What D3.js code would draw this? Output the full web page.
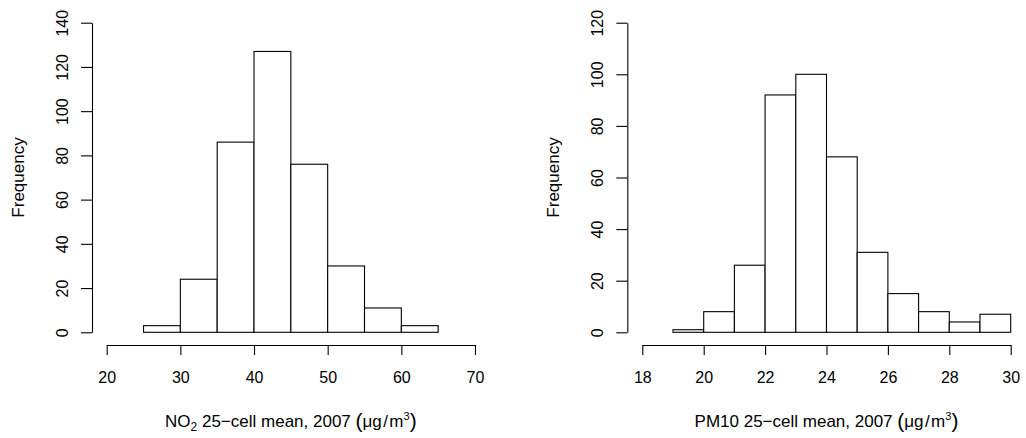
<!DOCTYPE html>
<html>
<head>
<meta charset="utf-8">
<script src="https://cdn.jsdelivr.net/npm/d3@7"></script>
<style>
  body { margin: 0; background: #fff; }
  svg text { font-family: "Liberation Sans", Arial, Helvetica, sans-serif; fill: #000; }
</style>
</head>
<body>
<svg id="chart" width="1026" height="438"></svg>
<script>
// left panel: NO2
const no2Breaks = [25, 30, 35, 40, 45, 50, 55, 60, 65];
const no2Counts = [3, 24, 86, 127, 76, 30, 11, 3];
const no2XTicks = [20, 30, 40, 50, 60, 70];
const no2YTicks = [0, 20, 40, 60, 80, 100, 120, 140];

// right panel: PM10
const pm10Breaks = [19, 20, 21, 22, 23, 24, 25, 26, 27, 28, 29, 30];
const pm10Counts = [1, 8, 26, 92, 100, 68, 31, 15, 8, 4, 7];
const pm10XTicks = [18, 20, 22, 24, 26, 28, 30];
const pm10YTicks = [0, 20, 40, 60, 80, 100, 120];

const svg = d3.select("#chart");
const fontSize = 16;

function drawHist(opts) {
  const { breaks, counts, xTicks, yTicks, xRange, yAxisX, label } = opts;
  const x = d3.scaleLinear().domain(d3.extent(xTicks)).range(xRange);
  const y = d3.scaleLinear().domain(d3.extent(yTicks)).range([332.3, 22.7]);
  const g = svg.append("g");

  const bins = counts.map((c, i) => ({ x0: breaks[i], x1: breaks[i + 1], n: c }));
  g.selectAll("rect").data(bins).join("rect")
    .attr("x", d => x(d.x0)).attr("width", d => x(d.x1) - x(d.x0))
    .attr("y", d => y(d.n)).attr("height", d => y(0) - y(d.n))
    .attr("fill", "#fff").attr("stroke", "#000").attr("stroke-width", 1.1);

  // x axis, detached below the bars like base R
  const xa = g.append("g").attr("transform", "translate(0,345)")
    .call(d3.axisBottom(x).tickValues(xTicks).tickSize(10).tickSizeOuter(0).tickFormat(d3.format("d")));
  xa.selectAll("text").attr("dy", null).attr("y", 32).attr("dominant-baseline", "central")
    .style("font-size", fontSize + "px");

  const ya = g.append("g").attr("transform", `translate(${yAxisX},0)`)
    .call(d3.axisLeft(y).tickValues(yTicks).tickSize(11).tickSizeOuter(0).tickFormat(d3.format("d")));
  ya.selectAll("text").attr("x", 0).attr("dy", "0.35em").attr("text-anchor", "middle")
    .attr("transform", "translate(-30,0) rotate(-90)").style("font-size", fontSize + "px");
  [xa, ya].forEach(a => {
    a.selectAll("path, line").attr("stroke", "#000").attr("stroke-width", 1.1);
    a.attr("font-family", null).attr("font-size", null);
  });

  g.append("text").attr("transform", `translate(${yAxisX - 74},177.5) rotate(-90)`)
    .attr("text-anchor", "middle").attr("dy", "0.35em").style("font-size", (fontSize + 1) + "px")
    .text("Frequency");

  const t = g.append("text").attr("x", d3.mean(xRange)).attr("y", 427)
    .attr("text-anchor", "middle").style("font-size", (fontSize + 1) + "px");
  if (label === "NO2") {
    t.append("tspan").text("NO");
    t.append("tspan").attr("dy", 4).style("font-size", "12px").text("2");
    t.append("tspan").attr("dy", -4).text(" 25\u2212cell mean, 2007 ");
  } else {
    t.append("tspan").text("PM10 25\u2212cell mean, 2007 ");
  }
  t.append("tspan").style("font-size", "21px").attr("dy", 1).text("(");
  t.append("tspan").attr("dy", -1).text("\u03bcg\u200a/\u200am");
  t.append("tspan").attr("dy", -7).style("font-size", "11px").text("3");
  t.append("tspan").attr("dy", 8).style("font-size", "21px").text(")");
}

drawHist({ breaks: no2Breaks, counts: no2Counts, xTicks: no2XTicks, yTicks: no2YTicks,
  xRange: [106.7, 475], yAxisX: 92, label: "NO2" });
drawHist({ breaks: pm10Breaks, counts: pm10Counts, xTicks: pm10XTicks, yTicks: pm10YTicks,
  xRange: [642.3, 1010.7], yAxisX: 627.3, label: "PM10" });
</script>
</body>
</html>
